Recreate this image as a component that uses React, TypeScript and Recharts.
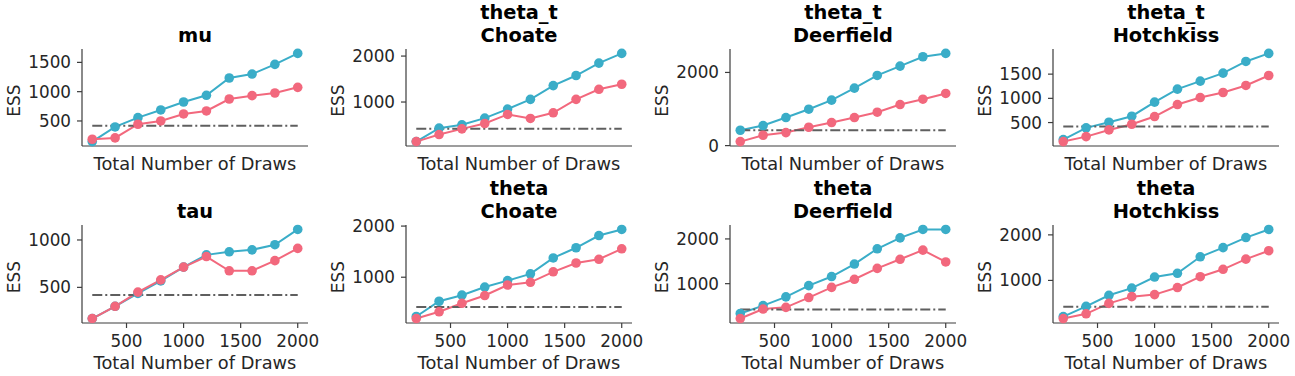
import { LineChart, Line, XAxis, YAxis, ReferenceLine, Label } from "recharts";

const draws = [200, 400, 600, 800, 1000, 1200, 1400, 1600, 1800, 2000];
const xTicks = [500, 1000, 1500, 2000];
const minEss = 420;

const muBulk = [148, 398, 557, 688, 824, 938, 1233, 1301, 1466, 1653];
const muTail = [188, 211, 444, 500, 620, 671, 875, 932, 977, 1074];
const thetaTChoateBulk = [139, 431, 504, 650, 847, 1058, 1358, 1577, 1847, 2058];
const thetaTChoateTail = [139, 292, 416, 533, 730, 642, 766, 1058, 1277, 1387];
const thetaTDeerfieldBulk = [420, 548, 767, 995, 1242, 1571, 1918, 2173, 2429, 2520];
const thetaTDeerfieldTail = [110, 283, 356, 502, 630, 767, 913, 1123, 1269, 1425];
const thetaTHotchkissBulk = [148, 390, 507, 631, 921, 1190, 1355, 1521, 1762, 1928];
const thetaTHotchkissTail = [107, 210, 348, 465, 624, 872, 1017, 1121, 1266, 1472];
const tauBulk = [171, 300, 436, 568, 714, 843, 875, 896, 950, 1111];
const tauTail = [171, 300, 450, 579, 714, 825, 675, 675, 782, 911];
const thetaChoateBulk = [232, 530, 649, 808, 934, 1066, 1377, 1576, 1815, 1934];
const thetaChoateTail = [192, 324, 490, 642, 848, 901, 1106, 1278, 1351, 1556];
const thetaDeerfieldBulk = [333, 508, 705, 955, 1159, 1439, 1780, 2023, 2212, 2212];
const thetaDeerfieldTail = [220, 432, 470, 689, 917, 1098, 1341, 1545, 1750, 1485];
const thetaHotchkissBulk = [207, 430, 674, 830, 1074, 1156, 1519, 1719, 1941, 2119];
const thetaHotchkissTail = [163, 267, 496, 644, 689, 844, 1082, 1244, 1467, 1652];

const panels = [
  { title: ["mu"], bulk: muBulk, tail: muTail, yTicks: [500, 1000, 1500] },
  { title: ["theta_t", "Choate"], bulk: thetaTChoateBulk, tail: thetaTChoateTail, yTicks: [1000, 2000] },
  { title: ["theta_t", "Deerfield"], bulk: thetaTDeerfieldBulk, tail: thetaTDeerfieldTail, yTicks: [0, 2000] },
  { title: ["theta_t", "Hotchkiss"], bulk: thetaTHotchkissBulk, tail: thetaTHotchkissTail, yTicks: [500, 1000, 1500] },
  { title: ["tau"], bulk: tauBulk, tail: tauTail, yTicks: [500, 1000] },
  { title: ["theta", "Choate"], bulk: thetaChoateBulk, tail: thetaChoateTail, yTicks: [1000, 2000] },
  { title: ["theta", "Deerfield"], bulk: thetaDeerfieldBulk, tail: thetaDeerfieldTail, yTicks: [1000, 2000] },
  { title: ["theta", "Hotchkiss"], bulk: thetaHotchkissBulk, tail: thetaHotchkissTail, yTicks: [1000, 2000] },
];

const FONT = "'DejaVu Sans', sans-serif";
const BLUE = "#3aadc8";
const RED = "#f2687d";
const AXIS = "#3c3c3c";
const TEXT = "#262626";
const TICK_PX = 16.8;

const COL_W = 324;
const ROW_H = 188;
const colLeft = [0, 324, 648, 971];

// explicit tick renderers so the font size sticks
const XTick = ({ x, y, payload }: any) => (
  <text
    x={x}
    y={y + 12.5}
    textAnchor="middle"
    fill={TEXT}
    style={{ fontSize: TICK_PX, fontFamily: FONT }}
  >
    {payload.value}
  </text>
);

const YTick = ({ x, y, payload }: any) => (
  <text
    x={x}
    y={y + 6}
    textAnchor="end"
    fill={TEXT}
    style={{ fontSize: TICK_PX, fontFamily: FONT }}
  >
    {payload.value}
  </text>
);

function Panel({ idx }: { idx: number }) {
  const p = panels[idx];
  const row = idx < 4 ? 0 : 1;
  const rows = draws.map((x, i) => ({ x, bulk: p.bulk[i], tail: p.tail[i] }));
  const all = [...p.bulk, ...p.tail, minEss];
  const lo = Math.min(...all);
  const hi = Math.max(...all);
  const pad = (hi - lo) * 0.05;
  const plotTop = row === 0 ? 49 : 37;
  const xHeight = row === 0 ? 42 : 53;
  const xLabelDy = row === 0 ? 24 : 46;

  return (
    <div style={{ position: "absolute", left: colLeft[idx % 4], top: row * ROW_H }}>
      <LineChart
        width={COL_W}
        height={ROW_H}
        data={rows}
        margin={{ top: plotTop, right: 16, bottom: 0, left: 0 }}
      >
        <XAxis
          type="number"
          dataKey="x"
          domain={[110, 2090]}
          ticks={xTicks}
          height={xHeight}
          stroke={AXIS}
          tickSize={5}
          tickMargin={6}
          tick={row === 1 ? XTick : false}
          axisLine={{ stroke: AXIS, strokeWidth: 1.2 }}
          tickLine={{ stroke: AXIS, strokeWidth: 1.2 }}
        >
          <Label
            content={({ viewBox }: any) => (
              <text
                x={viewBox.x + viewBox.width / 2}
                y={viewBox.y + xLabelDy}
                textAnchor="middle"
                fill={TEXT}
                style={{ fontSize: 17.8, fontFamily: FONT }}
              >
                Total Number of Draws
              </text>
            )}
          />
        </XAxis>
        <YAxis
          type="number"
          domain={[lo - pad, hi + pad]}
          ticks={p.yTicks}
          width={82}
          stroke={AXIS}
          tickSize={5}
          tickMargin={6}
          tick={YTick}
          axisLine={{ stroke: AXIS, strokeWidth: 1.2 }}
          tickLine={{ stroke: AXIS, strokeWidth: 1.2 }}
        >
          <Label
            content={({ viewBox }: any) => {
              const x = viewBox.x + viewBox.width - 62;
              const y = viewBox.y + viewBox.height / 2 + 3;
              return (
                <text
                  x={x}
                  y={y}
                  transform={`rotate(-90 ${x} ${y})`}
                  textAnchor="middle"
                  fill={TEXT}
                  style={{ fontSize: 17, fontFamily: FONT }}
                >
                  ESS
                </text>
              );
            }}
          />
        </YAxis>
        <Line
          dataKey="bulk"
          type="linear"
          stroke={BLUE}
          strokeWidth={2}
          dot={{ r: 4.8, fill: BLUE, stroke: BLUE, strokeWidth: 0 }}
          activeDot={false}
          isAnimationActive={false}
        />
        <Line
          dataKey="tail"
          type="linear"
          stroke={RED}
          strokeWidth={2}
          dot={{ r: 4.8, fill: RED, stroke: RED, strokeWidth: 0 }}
          activeDot={false}
          isAnimationActive={false}
        />
        <ReferenceLine
          segment={[
            { x: draws[0], y: minEss },
            { x: draws[draws.length - 1], y: minEss },
          ]}
          stroke="#5f5f5f"
          strokeWidth={2}
          strokeDasharray="10 3 2 3"
        />
      </LineChart>
      <svg
        width={COL_W}
        height={ROW_H}
        style={{ position: "absolute", left: 0, top: 0, pointerEvents: "none", overflow: "visible" }}
      >
        {p.title.map((line, i) => {
          const lastBase = row === 0 ? 41.8 : 30.3;
          const y = lastBase - (p.title.length - 1 - i) * 23;
          return (
            <text
              key={i}
              x={195}
              y={y}
              textAnchor="middle"
              fill="#000"
              style={{ fontSize: 19.4, fontWeight: "bold", fontFamily: FONT }}
            >
              {line}
            </text>
          );
        })}
      </svg>
    </div>
  );
}

export default function App() {
  return (
    <div
      style={{
        position: "absolute",
        left: 0,
        top: 0,
        width: 1295,
        height: 376,
        background: "#fff",
        overflow: "hidden",
      }}
    >
      {panels.map((_, i) => (
        <Panel key={i} idx={i} />
      ))}
    </div>
  );
}
